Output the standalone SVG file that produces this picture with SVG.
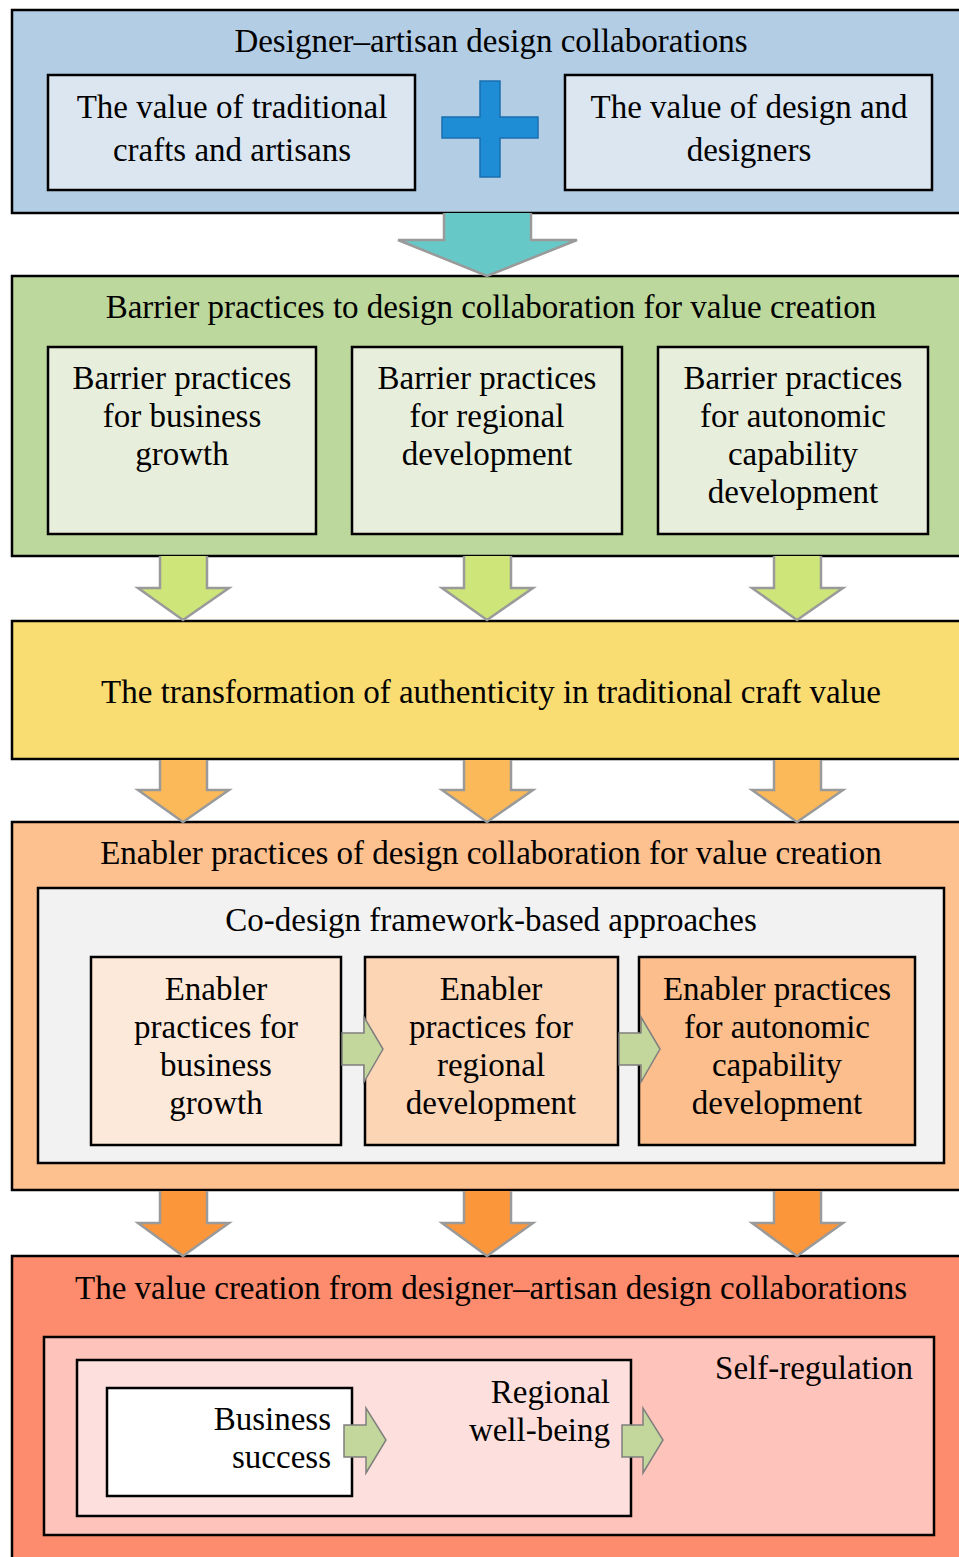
<svg xmlns="http://www.w3.org/2000/svg" width="959" height="1557" viewBox="0 0 959 1557">
<style>
text{font-family:"Liberation Serif","Times New Roman",serif;font-size:33px;fill:#000;text-anchor:middle}
.r{text-anchor:end}
.box{stroke:#000;stroke-width:2.5}
.arr{stroke:#9a9a9a;stroke-width:2.5;stroke-linejoin:miter}
.sarr{stroke:#7f7f7f;stroke-width:1.5;fill:#c3d69b}
</style>
<rect width="959" height="1557" fill="#fff"/>

<g id="top">
<rect class="box" x="12" y="10" width="960" height="203" fill="#b3cde5"/>
<text x="491" y="52">Designer–artisan design collaborations</text>
</g>
<g id="top-left">
<rect class="box" x="48" y="75" width="367" height="115" fill="#dbe6f1"/>
<text x="232" y="118">The value of traditional</text>
<text x="232" y="161">crafts and artisans</text>
</g>
<g id="plus">
<path d="M480 81H500V117H538V138H500V177H480V138H442V117H480Z" fill="#1f8dd6" stroke="#1a6fae" stroke-width="1.5"/>
</g>
<g id="top-right">
<rect class="box" x="565" y="75" width="367" height="115" fill="#dbe6f1"/>
<text x="749" y="118">The value of design and</text>
<text x="749" y="161">designers</text>
</g>

<g id="barrier">
<rect class="box" x="12" y="276" width="960" height="280" fill="#bcd89c"/>
<text x="491" y="318">Barrier practices to design collaboration for value creation</text>
</g>
<g id="barrier-1">
<rect class="box" x="48" y="347" width="268" height="187" fill="#e8eedc"/>
<text x="182" y="389">Barrier practices</text>
<text x="182" y="427">for business</text>
<text x="182" y="465">growth</text>
</g>
<g id="barrier-2">
<rect class="box" x="352" y="347" width="270" height="187" fill="#e8eedc"/>
<text x="487" y="389">Barrier practices</text>
<text x="487" y="427">for regional</text>
<text x="487" y="465">development</text>
</g>
<g id="barrier-3">
<rect class="box" x="658" y="347" width="270" height="187" fill="#e8eedc"/>
<text x="793" y="389">Barrier practices</text>
<text x="793" y="427">for autonomic</text>
<text x="793" y="465">capability</text>
<text x="793" y="503">development</text>
</g>

<g id="transformation">
<rect class="box" x="12" y="621" width="960" height="138" fill="#f9dc72"/>
<text x="491" y="703">The transformation of authenticity in traditional craft value</text>
</g>

<g id="enabler">
<rect class="box" x="12" y="822" width="960" height="368" fill="#fdc08f"/>
<text x="491" y="864">Enabler practices of design collaboration for value creation</text>
</g>
<g id="codesign">
<rect class="box" x="38" y="888" width="906" height="275" fill="#f2f2f2"/>
<text x="491" y="931">Co-design framework-based approaches</text>
</g>
<g id="enabler-1">
<rect class="box" x="91" y="957" width="250" height="188" fill="#fde9d9"/>
<text x="216" y="1000">Enabler</text>
<text x="216" y="1038">practices for</text>
<text x="216" y="1076">business</text>
<text x="216" y="1114">growth</text>
</g>
<g id="enabler-2">
<rect class="box" x="365" y="957" width="253" height="188" fill="#fcd5b5"/>
<text x="491" y="1000">Enabler</text>
<text x="491" y="1038">practices for</text>
<text x="491" y="1076">regional</text>
<text x="491" y="1114">development</text>
</g>
<g id="enabler-3">
<rect class="box" x="639" y="957" width="276" height="188" fill="#fbbe8c"/>
<text x="777" y="1000">Enabler practices</text>
<text x="777" y="1038">for autonomic</text>
<text x="777" y="1076">capability</text>
<text x="777" y="1114">development</text>
</g>

<g id="value-creation">
<rect class="box" x="12" y="1256" width="960" height="320" fill="#fd8b6d"/>
<text x="491" y="1299">The value creation from designer–artisan design collaborations</text>
</g>
<g id="self-regulation">
<rect class="box" x="44" y="1337" width="890" height="198" fill="#fec4bb"/>
<text class="r" x="913" y="1379">Self-regulation</text>
</g>
<g id="regional-wellbeing">
<rect class="box" x="77" y="1360" width="554" height="156" fill="#fde0dd"/>
<text class="r" x="610" y="1403">Regional</text>
<text class="r" x="610" y="1441">well-being</text>
</g>
<g id="business-success">
<rect class="box" x="107" y="1388" width="245" height="108" fill="#fff"/>
<text class="r" x="331" y="1430">Business</text>
<text class="r" x="331" y="1468">success</text>
</g>

<g id="connectors">
<path class="arr" fill="#66c9c8" d="M444 213V240H398L487 276L577 240H531V213"/>
<path class="arr" fill="#cde579" d="M160 556V588H138L183 620L229 588H207V556"/>
<path class="arr" fill="#cde579" d="M464 556V588H442L487 620L533 588H511V556"/>
<path class="arr" fill="#cde579" d="M774 556V588H752L797 620L843 588H821V556"/>
<path class="arr" fill="#fbb95a" d="M160 760V790H138L183 822L229 790H207V760"/>
<path class="arr" fill="#fbb95a" d="M464 760V790H442L487 822L533 790H511V760"/>
<path class="arr" fill="#fbb95a" d="M774 760V790H752L797 822L843 790H821V760"/>
<path class="arr" fill="#fb963a" d="M160 1191V1223H138L183 1256L229 1223H207V1191"/>
<path class="arr" fill="#fb963a" d="M464 1191V1223H442L487 1256L533 1223H511V1191"/>
<path class="arr" fill="#fb963a" d="M774 1191V1223H752L797 1256L843 1223H821V1191"/>
<path class="sarr" d="M342 1033H364V1017L383 1049L364 1082V1065H342Z"/>
<path class="sarr" d="M619 1033H641V1017L660 1049L641 1082V1065H619Z"/>
<path class="sarr" d="M344 1425H366V1408L386 1440L366 1473V1457H344Z"/>
<path class="sarr" d="M622 1425H643V1408L663 1440L643 1473V1457H622Z"/>
</g>
</svg>
